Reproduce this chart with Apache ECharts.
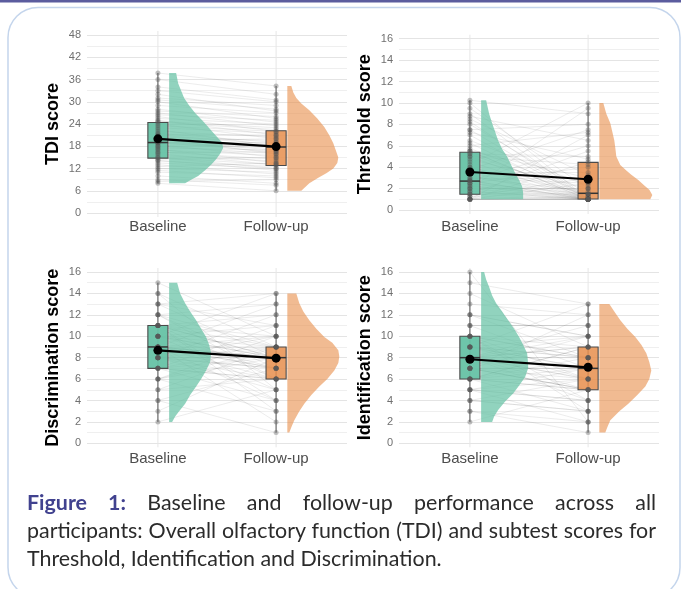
<!DOCTYPE html>
<html><head><meta charset="utf-8">
<script src="https://cdn.jsdelivr.net/npm/echarts@6/dist/echarts.min.js"></script>
<style>
html,body{margin:0;padding:0;background:#fff;}
#chart{position:absolute;left:0;top:0;width:681px;height:589px;}
#caption{position:absolute;left:27px;top:488px;width:629px;font-family:Lato,sans-serif;color:#2b2b2b;line-height:28px;font-size:21px;}
.j{text-align:justify;text-align-last:justify;}
.fig{font-weight:bold;color:#41428f;}
#measure{position:absolute;left:-2000px;top:0;white-space:nowrap;font-family:Lato,sans-serif;font-size:20px;}
</style></head><body>
<div id="chart"></div>
<div id="caption">
 <div class="j"><span class="fig">Figure 1:</span> Baseline and follow-up performance across all</div>
 <div class="j">participants: Overall olfactory function (TDI) and subtest scores for</div>
 <div>Threshold, Identification and Discrimination.</div>
</div>
<span id="measure">participants: Overall olfactory function (TDI) and subtest scores for</span>
<script>
// ---------------- DATA ----------------
const CATEGORIES = ['Baseline', 'Follow-up'];

// TDI
const TDI_BASELINE = [8, 8.5, 9, 10, 11, 11.5, 12, 12.5, 13, 13.5,
  14, 14.25, 14.5, 15, 15, 15.5, 16, 16.25, 16.5, 17,
  17.25, 17.5, 18, 18, 18.5, 18.75, 19, 19, 19, 19.25,
  19.5, 20, 20, 20.5, 21, 21.25, 21.5, 22, 22.5, 23,
  23.5, 24, 24.5, 24.75, 25, 25.5, 26, 26.5, 27, 27.5,
  28, 29, 30, 30.5, 31, 32, 33, 34, 36, 37.75];
const TDI_FOLLOWUP = [6, 9, 7.5, 8, 10, 9.5, 11, 13.5, 10.5, 12,
  12.5, 11.5, 15, 13, 12, 14, 13, 16.5, 14.5, 15.5,
  13.5, 17, 16, 18.5, 15, 17.5, 16.5, 19, 18, 17,
  20, 18, 16, 19.5, 18.5, 21, 19, 20.5, 18, 21.5,
  22, 20, 22.5, 23, 21, 24, 22, 25, 23.5, 26,
  24.5, 27, 25.5, 28, 29, 27.5, 30, 30.5, 32, 34.25];
const TDI_BOX_BASELINE = [8, 14.8, 19, 24.4, 37.75];   // min, Q1, median, Q3, max
const TDI_BOX_FOLLOWUP = [6, 12.8, 17.8, 22.2, 34.25];
const TDI_MEANS = [20.0, 17.9];
const TDI_VIOLIN_BASELINE = [[8,16],[9,22],[10,29],[11.5,36],[13,42],[14.5,47],[16,51],[17.5,54],[19,53],[20.5,48],[22,43],[23.5,38],[25,33],[27,26],[29,20],[31,15],[33,12],[35,9],[37.75,7]];
const TDI_VIOLIN_FOLLOWUP = [[6,14],[7,18],[8,22],[9.5,31],[10.7,39],[12,46],[13.5,50],[15,51],[16.5,49],[18.8,46],[21,42],[23.2,37],[25.5,30],[27.7,22],[29.5,14],[31,9],[32.5,6],[34.25,4]];

// Threshold
const THR_BASELINE = [1, 1, 1, 1, 1, 1, 1, 1, 1.25, 1.25,
  1.5, 1.5, 1.5, 1.75, 1.75, 2, 2, 2, 2.25, 2.25,
  2.5, 2.5, 2.5, 2.75, 2.75, 2.75, 3, 3, 3.25, 3.5,
  3.5, 3.75, 4, 4, 4.25, 4.5, 4.75, 5, 5, 5.25,
  5.25, 5.5, 5.5, 5.5, 5.75, 6, 6.25, 6.5, 7, 7.25,
  7.5, 7.5, 8, 8.25, 8.5, 8.75, 9, 9.5, 10, 10.25];
const THR_FOLLOWUP = [1, 2.5, 1, 4.5, 1, 1.25, 7, 1, 1, 3,
  1, 1.5, 5.5, 1, 1, 2, 1, 9.5, 1.25, 1,
  4, 1, 1.5, 1, 6, 1, 1.75, 2.5, 1, 3.5,
  1, 7.5, 1, 1.5, 10, 1, 2, 4.25, 1, 1.25,
  5, 1, 3, 1, 1.5, 7.25, 1, 2.25, 1, 4.75,
  1, 8, 1.5, 1, 3.25, 6.5, 1, 2, 1, 9];
const THR_BOX_BASELINE = [1, 1.47, 2.7, 5.4, 10.25];
const THR_BOX_FOLLOWUP = [1, 1.03, 1.56, 4.45, 10];
const THR_MEANS = [3.55, 2.87];
const THR_VIOLIN_BASELINE = [[1,42],[1.25,42],[1.6,42],[2.2,41],[2.8,38],[3.45,34],[4.2,30],[5,26],[5.7,21],[6.5,17],[7.3,14],[8.1,11],[9,8],[10.25,5]];
const THR_VIOLIN_FOLLOWUP = [[1,51],[1.4,53],[1.9,50],[2.3,45],[2.8,39],[3.3,32],[3.7,27],[4.2,21],[5,17],[5.8,16],[6.5,15],[7.3,13],[8.1,11],[9,7],[10,4]];

// Discrimination
const DIS_BASELINE = [2, 3, 4, 4, 5, 5, 6, 6, 6, 7,
  7, 7, 7, 7, 8, 8, 8, 8, 8, 8,
  8, 9, 9, 9, 9, 9, 9, 9, 9, 9,
  9, 10, 10, 10, 10, 10, 10, 11, 11, 11,
  11, 11, 11, 11, 12, 12, 12, 12, 13, 13,
  13, 14, 14, 15, 9, 8, 10, 7, 6, 11];
const DIS_FOLLOWUP = [5, 8, 1, 7, 6, 9, 3, 8, 10, 4,
  9, 6, 11, 8, 5, 7, 12, 8, 6, 10,
  9, 7, 4, 13, 8, 6, 9, 8, 10, 7,
  2, 14, 8, 5, 9, 11, 7, 8, 6, 12,
  9, 3, 10, 8, 7, 13, 6, 9, 11, 8,
  14, 5, 9, 10, 8, 7, 8, 6, 9, 4];
const DIS_BOX_BASELINE = [2, 7, 9, 11, 15];
const DIS_BOX_FOLLOWUP = [1, 6, 8, 9, 14];
const DIS_MEANS = [8.68, 7.95];
const DIS_VIOLIN_BASELINE = [[2,3],[2.5,6],[3,10],[3.7,16],[4.5,21],[5.3,27],[6,32],[6.8,37],[7.6,41],[8.4,42],[9.2,40],[9.94,37],[10.7,32],[11.5,27],[12.3,21],[13.07,16],[14,11],[15,8]];
const DIS_VIOLIN_FOLLOWUP = [[1,2],[1.5,4],[2.15,7],[3,12],[3.7,17],[4.5,24],[5.3,32],[6,40],[6.8,47],[7.5,51],[8.1,52],[8.7,51],[9.4,45],[9.94,37],[10.7,29],[11.5,22],[12.3,16],[13.07,12],[14,9]];

// Identification
const IDE_BASELINE = [2, 3, 4, 4, 5, 5, 5, 6, 6, 6,
  6, 7, 7, 7, 7, 7, 8, 8, 8, 8,
  8, 8, 8, 9, 9, 9, 9, 10, 10, 10,
  10, 11, 11, 12, 12, 13, 14, 15, 16, 6,
  7, 8, 9, 5, 6, 7, 8, 9, 10, 11,
  4, 3, 6, 7, 8, 5, 9, 12, 10, 8];
const IDE_FOLLOWUP = [5, 1, 3, 6, 2, 7, 4, 8, 5, 9,
  3, 6, 10, 5, 7, 12, 4, 9, 6, 7,
  8, 11, 5, 7, 10, 6, 13, 8, 4, 9,
  6, 11, 7, 10, 8, 12, 9, 13, 2, 5,
  7, 6, 8, 4, 9, 5, 10, 7, 8, 11,
  3, 2, 7, 5, 9, 6, 8, 10, 3, 7];
const IDE_BOX_BASELINE = [2, 6, 8, 10, 16];
const IDE_BOX_FOLLOWUP = [1, 5, 7, 9, 13];
const IDE_MEANS = [7.85, 7.1];
const IDE_VIOLIN_BASELINE = [[2,11],[2.5,13],[3.1,17],[3.9,24],[4.65,32],[5.4,38],[6.2,44],[7,47],[7.45,47],[8.4,46],[9.2,42],[9.94,38],[10.7,33],[11.5,27],[12.3,21],[13.07,15],[13.8,11],[14.6,8],[15.3,5],[16,3]];
const IDE_VIOLIN_FOLLOWUP = [[1,6],[1.5,8],[2.15,11],[3,20],[3.7,29],[4.5,38],[5.3,46],[6,50],[6.8,52],[7.6,50],[8.4,47],[9.2,42],[9.94,36],[10.7,28],[11.5,21],[12.3,15],[13,10]];

// axis titles / ranges
const Y_TITLES = ['TDI score', 'Threshold score', 'Discrimination score', 'Identification score'];
const Y_MAX = [48, 16, 16, 16];
const Y_INTERVAL = [6, 2, 2, 2];

// ---------------- LAYOUT / STYLE ----------------
const PANELS = [
  {base: TDI_BASELINE, follow: TDI_FOLLOWUP, boxB: TDI_BOX_BASELINE, boxF: TDI_BOX_FOLLOWUP, means: TDI_MEANS, vB: TDI_VIOLIN_BASELINE, vF: TDI_VIOLIN_FOLLOWUP},
  {base: THR_BASELINE, follow: THR_FOLLOWUP, boxB: THR_BOX_BASELINE, boxF: THR_BOX_FOLLOWUP, means: THR_MEANS, vB: THR_VIOLIN_BASELINE, vF: THR_VIOLIN_FOLLOWUP},
  {base: DIS_BASELINE, follow: DIS_FOLLOWUP, boxB: DIS_BOX_BASELINE, boxF: DIS_BOX_FOLLOWUP, means: DIS_MEANS, vB: DIS_VIOLIN_BASELINE, vF: DIS_VIOLIN_FOLLOWUP},
  {base: IDE_BASELINE, follow: IDE_FOLLOWUP, boxB: IDE_BOX_BASELINE, boxF: IDE_BOX_FOLLOWUP, means: IDE_MEANS, vB: IDE_VIOLIN_BASELINE, vF: IDE_VIOLIN_FOLLOWUP}
];
const GRIDS = [
  {left: 87, top: 35, width: 260, height: 178},
  {left: 399, top: 38.7, width: 260, height: 171.3},
  {left: 87, top: 272, width: 260, height: 171.3},
  {left: 399, top: 272, width: 260, height: 171.3}
];
const CAT_MARGIN = [6.5, 9.5, 8.5, 8.5];
const DENS_SCALE = 1 / 118.2;   // violin density units -> x units
const VIOLIN_OFFSET = 0.095;
const BOX_HALF = 0.085;
const VIOLIN_FILL = ['rgba(102,194,165,0.72)', 'rgba(232,142,73,0.6)'];
const BOX_FILL = ['rgba(102,194,165,0.95)', 'rgba(230,142,76,0.85)'];
const FONT = 'Liberation Sans, Arial, Helvetica, sans-serif';

const grids = [], xAxes = [], yAxes = [], series = [];
PANELS.forEach((p, i) => {
  grids.push(Object.assign({outerBoundsMode: 'none', containLabel: false}, GRIDS[i]));
  xAxes.push({
    type: 'value', gridIndex: i, min: 0.4, max: 2.6,
    axisLine: {show: false}, axisTick: {show: false}, splitLine: {show: false},
    axisLabel: {
      customValues: [1, 2], margin: CAT_MARGIN[i], fontSize: 15, color: '#4d4d4d', fontFamily: FONT,
      formatter: v => (Math.abs(v - Math.round(v)) < 1e-6 && CATEGORIES[Math.round(v) - 1]) || ''
    }
  });
  yAxes.push({
    type: 'value', gridIndex: i, min: 0, max: Y_MAX[i], interval: Y_INTERVAL[i],
    name: Y_TITLES[i], nameLocation: 'middle', nameGap: 25,
    nameTextStyle: {fontSize: 18, fontWeight: 'bold', color: '#000', fontFamily: FONT},
    axisLine: {show: false}, axisTick: {show: false},
    axisLabel: {fontSize: 11, color: '#707070', margin: 6, fontFamily: FONT},
    splitLine: {lineStyle: {color: '#e4e4e4', width: 1}},
    minorTick: {show: false, splitNumber: 2},
    minorSplitLine: {show: true, lineStyle: {color: '#efefef', width: 1}}
  });

  // vertical reference lines at categories
  series.push({
    type: 'custom', xAxisIndex: i, yAxisIndex: i, silent: true, z: 1,
    data: [[1, 0], [2, 0]],
    renderItem: (params, api) => {
      const x = api.coord([api.value(0), 0])[0];
      const cs = params.coordSys;
      return {type: 'line', shape: {x1: x, y1: cs.y - 4, x2: x, y2: cs.y + cs.height + 4},
        style: {stroke: '#e6e6e6', lineWidth: 1}};
    }
  });
  // paired participant lines
  series.push({
    type: 'custom', xAxisIndex: i, yAxisIndex: i, silent: true, z: 2,
    data: p.base.map((b, k) => [b, p.follow[k]]),
    renderItem: (params, api) => {
      const a = api.coord([1, api.value(0)]);
      const b = api.coord([2, api.value(1)]);
      return {type: 'line', shape: {x1: a[0], y1: a[1], x2: b[0], y2: b[1]},
        style: {stroke: 'rgba(60,60,60,0.17)', lineWidth: 0.6}};
    }
  });
  // half violins
  [p.vB, p.vF].forEach((prof, c) => {
    const x0 = c + 1 + VIOLIN_OFFSET;
    series.push({
      type: 'custom', xAxisIndex: i, yAxisIndex: i, silent: true, z: 3,
      data: prof,
      renderItem: (params, api) => {
        if (params.dataIndex !== 0) return null;
        const pts = [api.coord([x0, prof[0][0]])];
        prof.forEach(q => pts.push(api.coord([x0 + q[1] * DENS_SCALE, q[0]])));
        pts.push(api.coord([x0, prof[prof.length - 1][0]]));
        return {type: 'polygon', shape: {points: pts}, style: {fill: VIOLIN_FILL[c]}};
      }
    });
  });
  // box plots
  series.push({
    type: 'custom', xAxisIndex: i, yAxisIndex: i, silent: true, z: 4,
    data: [[1].concat(p.boxB), [2].concat(p.boxF)],
    renderItem: (params, api) => {
      const x = api.value(0);
      const mn = api.coord([x, api.value(1)]), q1 = api.coord([x, api.value(2)]),
            md = api.coord([x, api.value(3)]), q3 = api.coord([x, api.value(4)]),
            mx = api.coord([x, api.value(5)]);
      const l = api.coord([x - BOX_HALF, 0])[0], r = api.coord([x + BOX_HALF, 0])[0];
      return {type: 'group', children: [
        {type: 'line', shape: {x1: mn[0], y1: mn[1], x2: mx[0], y2: mx[1]}, style: {stroke: '#555', lineWidth: 1}},
        {type: 'rect', shape: {x: l, y: q3[1], width: r - l, height: q1[1] - q3[1]},
          style: {fill: BOX_FILL[params.dataIndex], stroke: '#4a4a4a', lineWidth: 1.1}},
        {type: 'line', shape: {x1: l, y1: md[1], x2: r, y2: md[1]}, style: {stroke: '#333', lineWidth: 1.5}}
      ]};
    }
  });
  // individual points
  series.push({
    type: 'scatter', xAxisIndex: i, yAxisIndex: i, silent: true, z: 5,
    symbolSize: 5, itemStyle: {color: 'rgba(85,85,85,0.45)'},
    data: p.base.map(v => [1, v]).concat(p.follow.map(v => [2, v]))
  });
  // means
  series.push({
    type: 'line', xAxisIndex: i, yAxisIndex: i, silent: true, z: 6,
    data: [[1, p.means[0]], [2, p.means[1]]],
    symbol: 'circle', symbolSize: 9, itemStyle: {color: '#000'},
    lineStyle: {color: '#000', width: 2.2}
  });
});

const chart = echarts.init(document.getElementById('chart'), null, {renderer: 'canvas'});
chart.setOption({
  animation: false,
  backgroundColor: '#fff',
  textStyle: {fontFamily: FONT},
  grid: grids, xAxis: xAxes, yAxis: yAxes, series: series,
  graphic: [
    {type: 'rect', left: 0, top: 0, shape: {x: 0, y: 0, width: 681, height: 2.5}, style: {fill: '#5b5c9e'}, silent: true},
    {type: 'rect', shape: {x: 8, y: 7.5, width: 672, height: 590, r: 30}, style: {fill: 'none', stroke: '#c4d5ec', lineWidth: 1.5}, silent: true}
  ]
});

// fit caption font so the second (full) line spans the caption width
const m = document.getElementById('measure');
const w = m.getBoundingClientRect().width;
if (w > 0) document.getElementById('caption').style.fontSize = (20 * 626 / w).toFixed(2) + 'px';
</script>
</body></html>
